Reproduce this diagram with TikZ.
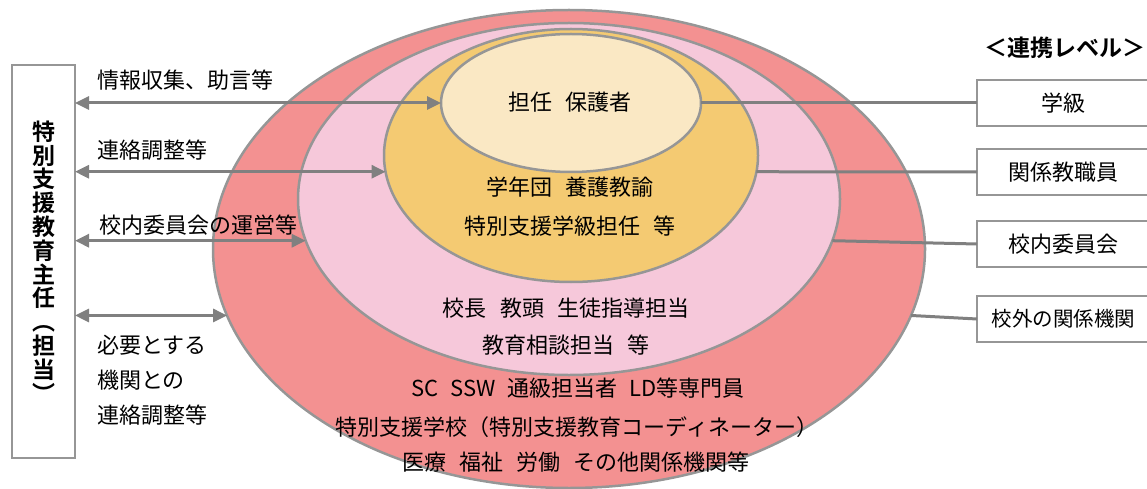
\documentclass[tikz,border=0pt]{standalone}
\usepackage{fontspec}
\setmainfont{Noto Sans CJK JP}[BoldFont={Noto Sans CJK JP Bold}]
\usetikzlibrary{shapes.geometric,arrows.meta}
\definecolor{outerred}{RGB}{243,145,145}
\definecolor{midpink}{RGB}{246,200,218}
\definecolor{innergold}{RGB}{244,202,114}
\definecolor{corecream}{RGB}{250,232,196}
\definecolor{ringgray}{RGB}{150,150,150}
\definecolor{linkgray}{RGB}{128,128,128}
\newcommand{\gap}{\hspace{0.6em}}
\tikzset{%
    ring/.style={ellipse, draw=ringgray, line width=2.5pt, inner sep=0pt, outer sep=0pt},
    link/.style={draw=linkgray, line width=3pt,
        {Triangle[length=14pt,width=13pt]}-{Triangle[length=14pt,width=13pt]}},
    tie/.style={draw=linkgray, line width=3pt},
    levelbox/.style={draw=ringgray, line width=2.5pt, fill=white, inner sep=0pt, outer sep=0pt,
        minimum width=173pt, minimum height=46pt, font=\fontsize{22pt}{26pt}\selectfont},
    txt/.style={inner sep=0pt, font=\fontsize{22pt}{26pt}\selectfont}
}

\begin{document}
\begin{tikzpicture}[x=1pt,y=-1pt]
    \useasboundingbox (0,0) rectangle (1147,489);
%-----------------------------------------------
    \node[ring, fill=outerred, minimum width=712pt, minimum height=478pt] (outer) at (569,249) {};
    \node[ring, fill=midpink, minimum width=542pt, minimum height=352pt] (pink) at (569,199) {};
    \node[ring, fill=innergold, minimum width=374pt, minimum height=253pt] (gold) at (571,155.5) {};
    \node[ring, fill=corecream, minimum width=260pt, minimum height=138pt] (cream) at (571,103) {};
%-----------------------------------------------
    \node[txt] (t1) at (570,102) {担任\gap 保護者};
    \node[txt] (t2) at (570,187) {学年団\gap 養護教諭};
    \node[txt] (t3) at (570,226) {特別支援学級担任\gap 等};
    \node[txt] (t4) at (566,308) {校長\gap 教頭\gap 生徒指導担当};
    \node[txt] (t5) at (566,345) {教育相談担当\gap 等};
    \node[txt] (t6) at (578,388) {SC\hspace{0.55em}SSW\hspace{0.55em}通級担当者\hspace{0.55em}LD等専門員};
    \node[txt] (t7) at (577,427) {特別支援学校（特別支援教育コーディネーター）};
    \node[txt] (t8) at (576,462) {医療\gap 福祉\gap 労働\gap その他関係機関等};
%-----------------------------------------------
    \node[draw=ringgray, line width=2.5pt, inner sep=0pt, outer sep=0pt,
        minimum width=63pt, minimum height=393pt, align=center,
        font=\fontsize{23pt}{23.8pt}\selectfont\bfseries] (lead) at (43.5,261.5)
        {特\\別\\支\\援\\教\\育\\主\\任\\︵\\担\\当\\︶};
%-----------------------------------------------
    \node[txt, font=\fontsize{23pt}{26pt}\selectfont\bfseries] (head) at (1065,48) {＜連携レベル＞};
    \node[levelbox] (lv1) at (1063.5,103) {学級};
    \node[levelbox] (lv2) at (1063.5,172) {関係教職員};
    \node[levelbox] (lv3) at (1063.5,244) {校内委員会};
    \node[levelbox, font=\fontsize{20.5pt}{24pt}\selectfont] (lv4) at (1063.5,319) {校外の関係機関};
%-----------------------------------------------
    \draw[link] (cream.west -| lead.east) -- (cream.west);
    \draw[link] (gold.185.1 -| lead.east) -- (gold.185.1);
    \draw[link] (pink.189.7 -| lead.east) -- (pink.189.7);
    \draw[link] (outer.191.6 -| lead.east) -- (outer.191.6);
%-----------------------------------------------
    \draw[tie] (cream.east) -- (lv1.west);
    \draw[tie] (gold.-5.1) -- (lv2.west);
    \draw[tie] (pink.-9.7) -- (lv3.west);
    \draw[tie] (outer.-11.6) -- (lv4.west);
%-----------------------------------------------
    \node[txt, anchor=west] (c1) at (97,80) {情報収集、助言等};
    \node[txt, anchor=west] (c2) at (97,150) {連絡調整等};
    \node[txt, anchor=west] (c3) at (99,225) {校内委員会の運営等};
    \node[txt, anchor=west, align=left, font=\fontsize{22pt}{35pt}\selectfont] (c4) at (97,380)
        {必要とする\\機関との\\連絡調整等};
\end{tikzpicture}
\end{document}
